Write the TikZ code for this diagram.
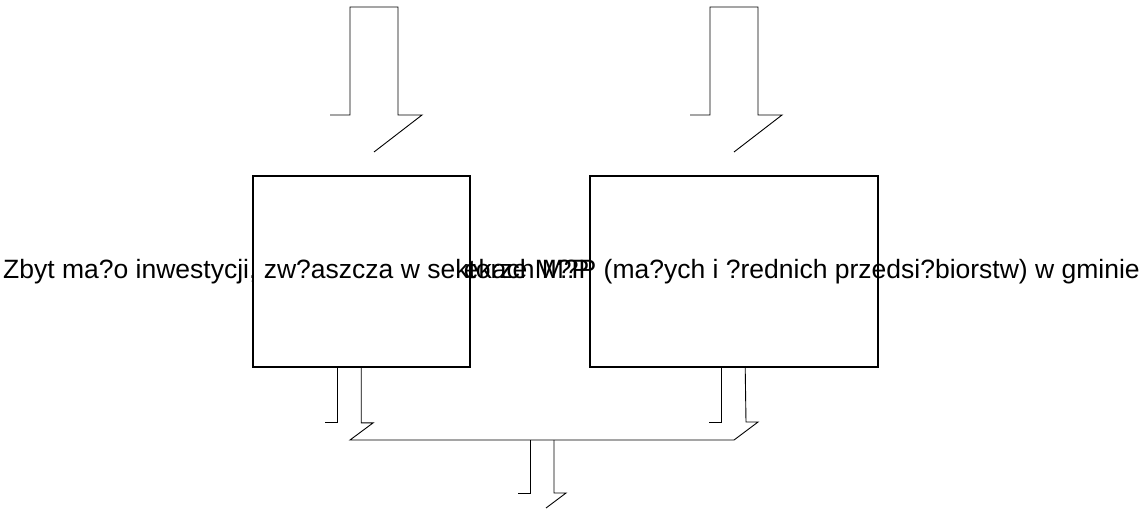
\documentclass[tikz,border=0pt]{standalone}
\usepackage{fontspec}
\setmainfont{Liberation Sans}
\usetikzlibrary{calc}
\tikzstyle{problem}=[draw, line width=1.6pt, minimum height=191pt, inner sep=0]
\tikzstyle{object}=[line width=0.9pt]
\tikzstyle{label text}=[inner sep=0, font=\fontsize{26.5}{30}\selectfont]

\begin{document}
\begin{tikzpicture}[x=1pt, y=-1pt]
          \useasboundingbox (0,0) rectangle (1146,509);
          \node[problem, minimum width=217pt] (left) at (361.5, 271.5) {};
          \node[problem, minimum width=288pt] (right) at (734, 271.5) {};
          \node[label text, anchor=base west] (cause) at (3, 278)
            {Zbyt ma?o inwestycji, zw?aszcza w sektorze M?P};
          \node[label text, anchor=base east] (effect) at (1140, 278)
            {ekach M?P (ma?ych i ?rednich przedsi?biorstw) w gminie};

          % arrows into the boxes
          \foreach \x in {330, 690} {
            \draw[object] (\x,115) -- ++(20,0) -- ++(0,-108) -- ++(48,0)
              -- ++(0,108) -- ++(24,0) -- ++(-48,37);
          }

          % joined arrow out of the boxes
          \draw[object] ($(left.south west)+(85,0)$) -- ++(0,55) -- ++(-12,0);
          \draw[object] ($(left.south west)+(109,0)$) -- ++(0,55) -- ++(12,0)
            -- (350,440) -- (734,440) -- (758,422) -- ++(-12,0)
            -- ($(right.south west)+(156,0)$);
          \draw[object] ($(right.south west)+(132,0)$) -- ++(0,55) -- ++(-12,0);
          \draw[object] (530,440) -- ++(0,53) -- ++(-12,0);
          \draw[object] (554,440) -- ++(0,53) -- ++(12,0) -- (546,508);
        \end{tikzpicture}
\end{document}
